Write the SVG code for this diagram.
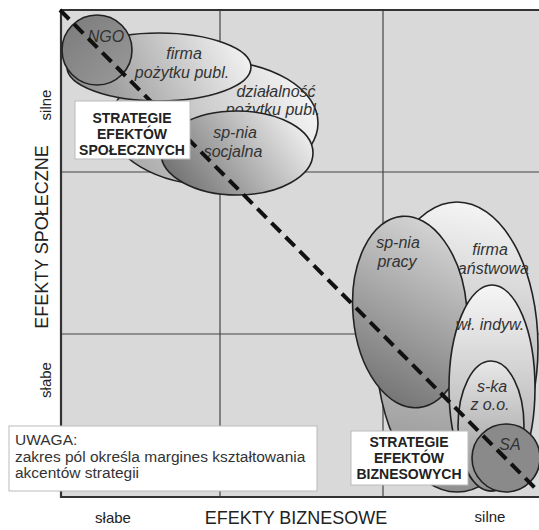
<svg xmlns="http://www.w3.org/2000/svg" width="539" height="530" viewBox="0 0 539 530">
<style>
.lbl{font-family:"Liberation Sans",Arial,sans-serif;font-style:italic;font-size:16px;fill:#333;text-anchor:middle}
.strat{font-family:"Liberation Sans",Arial,sans-serif;font-weight:bold;font-size:14px;fill:#222;text-anchor:middle}
.note{font-family:"Liberation Sans",Arial,sans-serif;font-size:15.5px;fill:#333}
.axis{font-family:"Liberation Sans",Arial,sans-serif;font-size:18px;fill:#222;text-anchor:middle}
.tick{font-family:"Liberation Sans",Arial,sans-serif;font-size:15px;fill:#222;text-anchor:middle}
.ell{stroke:#222;stroke-width:1.6}
.box{fill:#fff;stroke:#bbb;stroke-width:1}
.grid{stroke:#444;stroke-width:1.2;fill:none}
.frame{stroke:#333;stroke-width:2.2;fill:none}
</style>
<defs>
<linearGradient id="gL" x1="0" y1="0.5" x2="1" y2="0.3"><stop offset="0" stop-color="#8e8e8e"/><stop offset="1" stop-color="#f4f4f4"/></linearGradient>
<linearGradient id="gL2" x1="0" y1="0.6" x2="1" y2="0.3"><stop offset="0" stop-color="#a8a8a8"/><stop offset="1" stop-color="#f6f6f6"/></linearGradient>
<linearGradient id="gS" x1="0" y1="0.7" x2="1" y2="0.3"><stop offset="0" stop-color="#6f6f6f"/><stop offset="1" stop-color="#f0f0f0"/></linearGradient>
<linearGradient id="gP" x1="0.7" y1="0" x2="0.3" y2="1"><stop offset="0" stop-color="#d6d6d6"/><stop offset="1" stop-color="#737373"/></linearGradient>
<linearGradient id="gF" x1="0.5" y1="0" x2="0.4" y2="1"><stop offset="0" stop-color="#f4f4f4"/><stop offset="1" stop-color="#8f8f8f"/></linearGradient>
<linearGradient id="gW" x1="0.5" y1="0" x2="0.5" y2="1"><stop offset="0" stop-color="#f6f6f6"/><stop offset="1" stop-color="#a0a0a0"/></linearGradient>
<linearGradient id="gK" x1="0.5" y1="0" x2="0.5" y2="1"><stop offset="0" stop-color="#e8e8e8"/><stop offset="1" stop-color="#8f8f8f"/></linearGradient>
<linearGradient id="gN" x1="0" y1="0" x2="1" y2="1"><stop offset="0" stop-color="#7a7a7a"/><stop offset="1" stop-color="#9a9a9a"/></linearGradient>
</defs>
<rect x="0" y="0" width="539" height="530" fill="#fff"/>
<rect x="61" y="10" width="478" height="487" fill="#d9d9d9"/>
<g id="grid">
<line class="grid" x1="220" y1="10" x2="220" y2="497"/>
<line class="grid" x1="383" y1="10" x2="383" y2="497"/>
<line class="grid" x1="61" y1="172" x2="539" y2="172"/>
<line class="grid" x1="61" y1="334" x2="539" y2="334"/>
<polyline class="frame" points="539,10 61,10 61,497 539,497"/>
</g>
<g id="dzialalnosc"><ellipse class="ell" cx="214" cy="123" rx="104" ry="62" fill="url(#gL2)"/><text class="lbl" x="276" y="97">działalność</text><text class="lbl" x="273" y="115">pożytku publ.</text></g>
<g id="firma-pozytku"><ellipse class="ell" cx="159" cy="67" rx="92" ry="34" fill="url(#gL)"/><text class="lbl" x="184" y="59">firma</text><text class="lbl" x="182" y="78">pożytku publ.</text></g>
<g id="sp-nia-socjalna"><ellipse class="ell" cx="237" cy="153" rx="76" ry="42" fill="url(#gS)"/><text class="lbl" x="235" y="138">sp-nia</text><text class="lbl" x="233" y="157">socjalna</text></g>
<g id="ngo"><ellipse class="ell" cx="97" cy="50" rx="35" ry="35" fill="url(#gN)"/><text class="lbl" x="106" y="42">NGO</text></g>
<g id="firma-panstwowa"><ellipse class="ell" cx="457" cy="347" rx="81" ry="145" fill="url(#gF)"/><text class="lbl" x="490" y="255">firma</text><text class="lbl" x="489" y="274">państwowa</text></g>
<g id="sp-nia-pracy"><ellipse class="ell" cx="410" cy="312" rx="57" ry="96" fill="url(#gP)" transform="rotate(-5 410 312)"/><text class="lbl" x="398" y="248">sp-nia</text><text class="lbl" x="397" y="267">pracy</text></g>
<g id="wl-indyw"><ellipse class="ell" cx="492" cy="388" rx="43" ry="103" fill="url(#gW)"/><text class="lbl" x="490" y="330">wł. indyw.</text></g>
<g id="s-ka"><ellipse class="ell" cx="491" cy="426" rx="33" ry="65" fill="url(#gK)"/><text class="lbl" x="492" y="392">s-ka</text><text class="lbl" x="490" y="410">z o.o.</text></g>
<g id="sa"><ellipse class="ell" cx="506" cy="458" rx="34" ry="34" fill="#8a8a8a"/><text class="lbl" x="510" y="450">SA</text></g>
<g id="connectors"><line x1="60" y1="10" x2="539" y2="492" stroke="#111" stroke-width="4" stroke-dasharray="13 7"/></g>
<g id="strategie-spoleczne"><rect class="box" x="75" y="101" width="115" height="58"/><text class="strat" x="132" y="123">STRATEGIE</text><text class="strat" x="132" y="139">EFEKTÓW</text><text class="strat" x="132" y="155">SPOŁECZNYCH</text></g>
<g id="strategie-biznesowe"><rect class="box" x="351" y="431" width="117" height="54"/><text class="strat" x="409" y="447">STRATEGIE</text><text class="strat" x="409" y="463">EFEKTÓW</text><text class="strat" x="409" y="479">BIZNESOWYCH</text></g>
<g id="uwaga"><rect class="box" x="9" y="426" width="308" height="65"/><text class="note" x="15" y="445">UWAGA:</text><text class="note" x="15" y="462">zakres pól określa margines kształtowania</text><text class="note" x="15" y="478">akcentów strategii</text></g>
<g id="axes">
<text class="tick" x="113" y="523">słabe</text>
<text class="axis" x="296" y="524">EFEKTY  BIZNESOWE</text>
<text class="tick" x="490" y="522">silne</text>
<text class="tick" transform="translate(51 105) rotate(-90)">silne</text>
<text class="axis" transform="translate(48 237) rotate(-90)">EFEKTY  SPOŁECZNE</text>
<text class="tick" transform="translate(51 380) rotate(-90)">słabe</text>
</g>
</svg>
